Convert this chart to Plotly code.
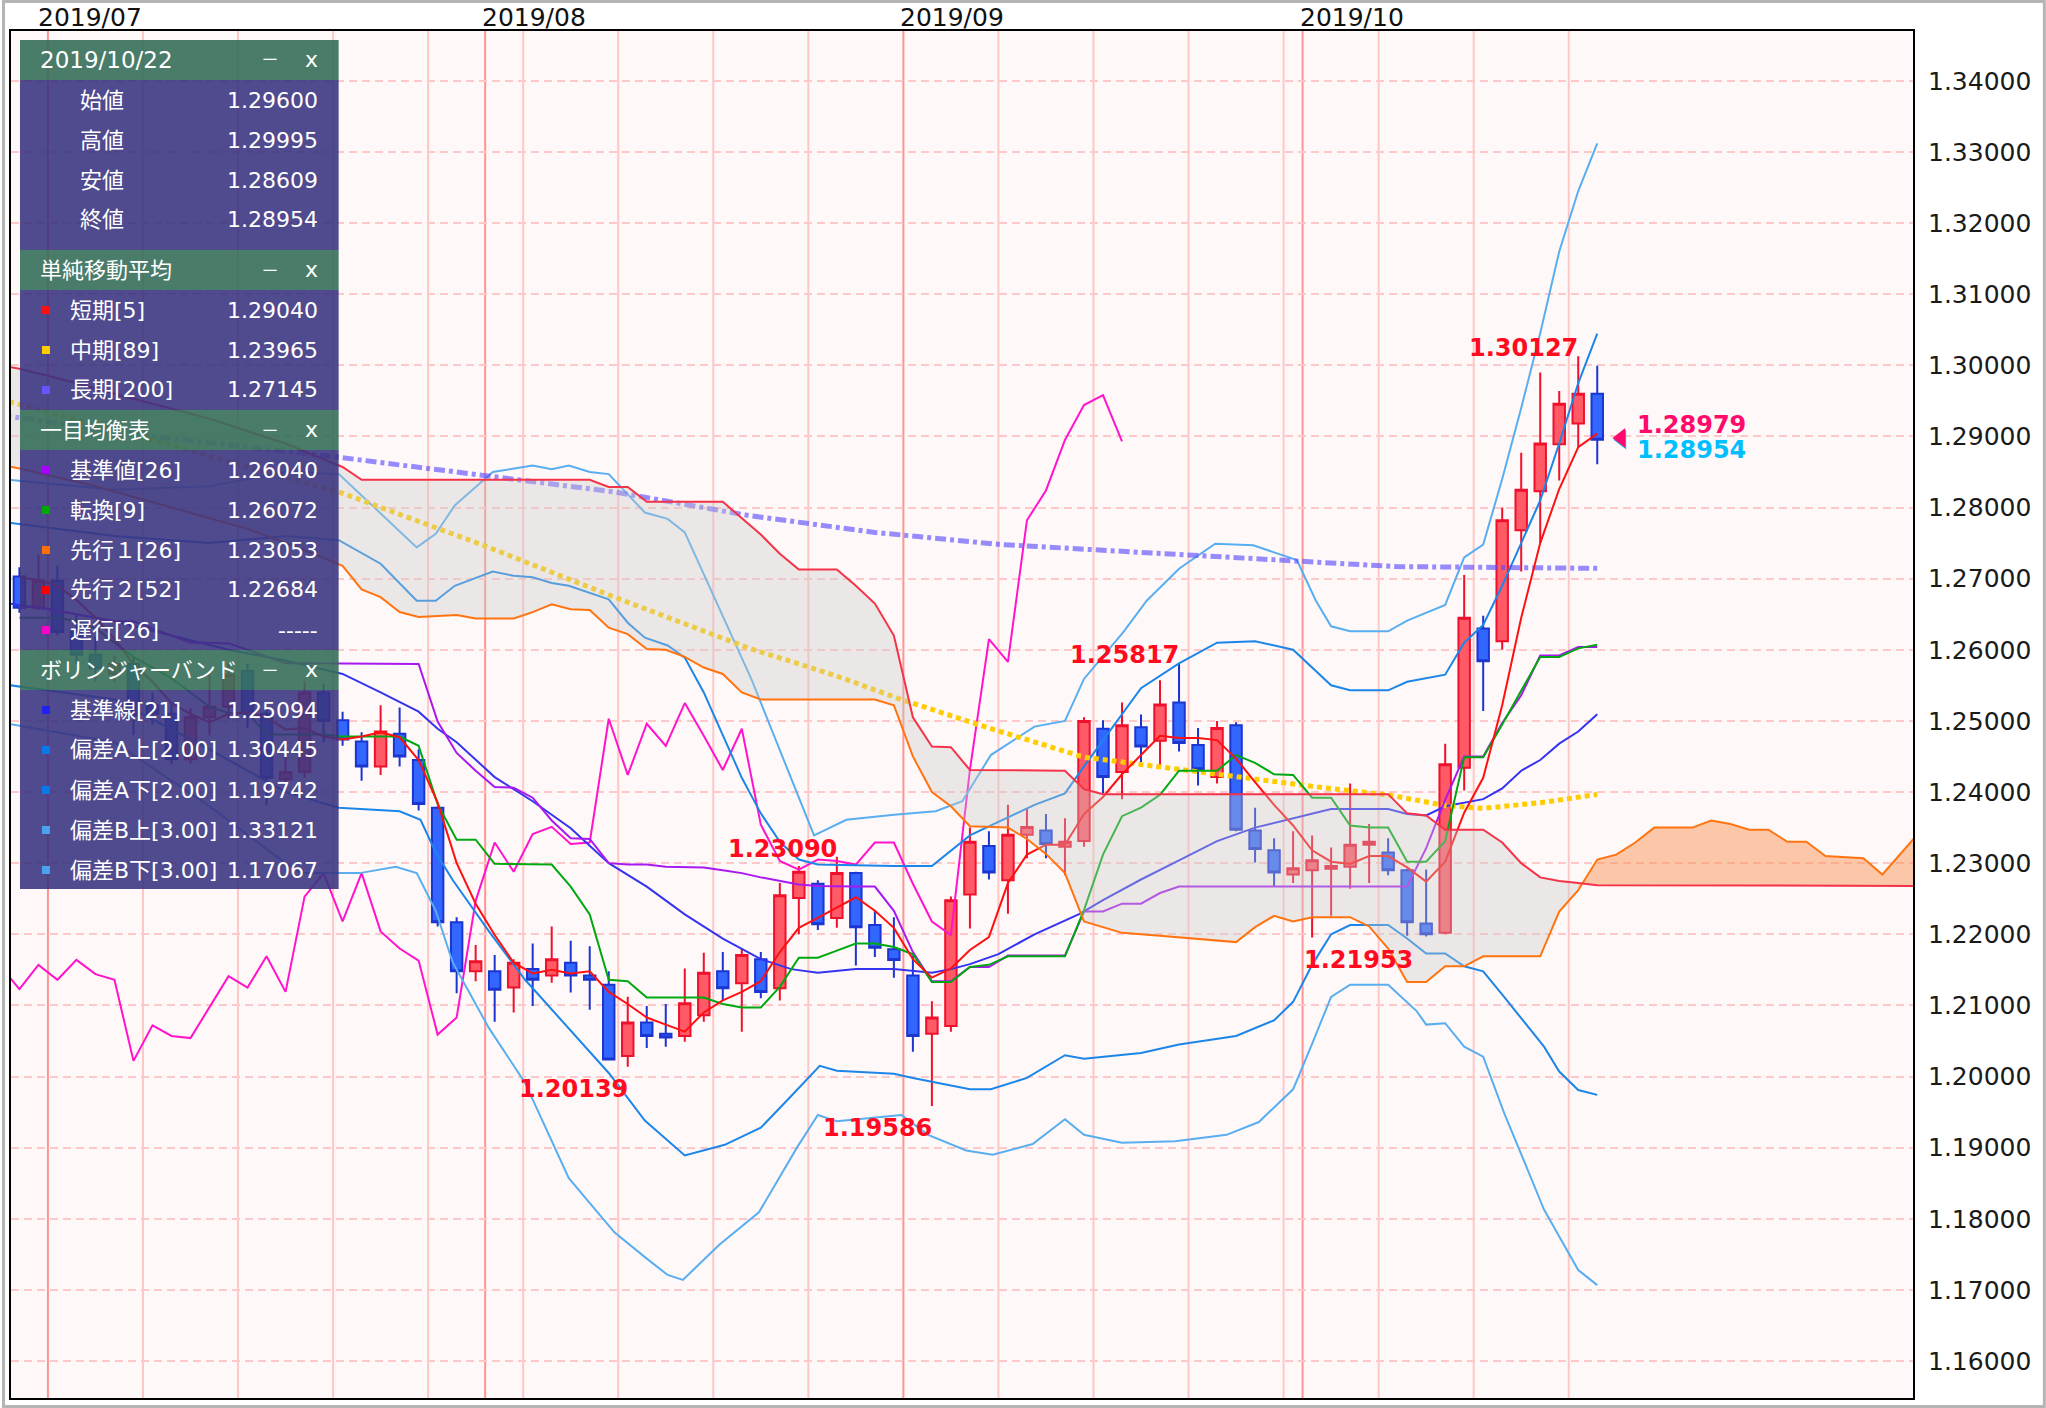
import plotly.graph_objects as go

# ---------------- data ----------------
# trading-day index: 0 = 2019/07/01 ... 81 = 2019/10/22
idx = list(range(-2, 82))
opens = [1.2703, 1.2659, 1.2697, 1.2625, 1.2593, 1.2566, 1.2580, 1.2522, 1.2510, 1.2446,
         1.2505, 1.2520, 1.2570, 1.2510, 1.2418, 1.2428, 1.2540, 1.2501, 1.2471, 1.2436,
         1.2482, 1.2445, 1.2378, 1.2217, 1.2148, 1.2148, 1.2125, 1.2151, 1.2142, 1.2160,
         1.2142, 1.2129, 1.2029, 1.2076, 1.2060, 1.2057, 1.2086, 1.2148, 1.2131, 1.2165,
         1.2124, 1.2251, 1.2271, 1.2223, 1.2286, 1.2213, 1.2179, 1.2142, 1.2060, 1.2071,
         1.2256, 1.2324, 1.2276, 1.2340, 1.2346, 1.2323, 1.2331, 1.2489, 1.2428, 1.2491,
         1.2472, 1.2526, 1.2466, 1.2421, 1.2494, 1.2346, 1.2318, 1.2284, 1.2290, 1.2292,
         1.2295, 1.2326, 1.2315, 1.2290, 1.2215, 1.2202, 1.2434, 1.2630, 1.2612, 1.2768,
         1.2823, 1.2889, 1.2918, 1.29600]
highs = [1.2716, 1.2734, 1.2718, 1.2650, 1.2618, 1.2592, 1.2590, 1.2540, 1.2525, 1.2518,
         1.2565, 1.2582, 1.2580, 1.2518, 1.2450, 1.2556, 1.2552, 1.2513, 1.2484, 1.2522,
         1.2519, 1.2460, 1.2380, 1.2224, 1.2185, 1.2171, 1.2165, 1.2187, 1.2211, 1.2191,
         1.2183, 1.2148, 1.2112, 1.2099, 1.2102, 1.2152, 1.2174, 1.2175, 1.2180, 1.2175,
         1.2272, 1.2296, 1.2276, 1.23090, 1.2288, 1.2233, 1.2224, 1.2170, 1.2106, 1.2253,
         1.2350, 1.2345, 1.2382, 1.2377, 1.2369, 1.2363, 1.2505, 1.2501, 1.2526, 1.2509,
         1.2557, 1.25817, 1.2490, 1.2500, 1.2498, 1.2378, 1.2335, 1.2345, 1.2339, 1.2322,
         1.2412, 1.2355, 1.2335, 1.2292, 1.2291, 1.2468, 1.2705, 1.2648, 1.2800, 1.2877,
         1.2990, 1.2964, 1.30127, 1.29995]
lows = [1.2652, 1.2656, 1.2620, 1.2580, 1.2555, 1.2555, 1.2480, 1.2495, 1.2439, 1.2440,
        1.2480, 1.2503, 1.2490, 1.2382, 1.2405, 1.2420, 1.2470, 1.2465, 1.2416, 1.2424,
        1.2436, 1.2374, 1.2211, 1.2117, 1.2134, 1.2077, 1.2090, 1.2099, 1.2132, 1.2118,
        1.2094, 1.2024, 1.20139, 1.2040, 1.2042, 1.2049, 1.2077, 1.2107, 1.2063, 1.2110,
        1.2107, 1.2200, 1.2206, 1.2209, 1.2156, 1.2168, 1.2139, 1.2035, 1.19586, 1.2063,
        1.2208, 1.2277, 1.2229, 1.2307, 1.2307, 1.2283, 1.2323, 1.2398, 1.2390, 1.2441,
        1.2433, 1.2457, 1.2409, 1.2412, 1.2345, 1.2301, 1.2268, 1.2272, 1.21953, 1.2226,
        1.2264, 1.2272, 1.2283, 1.2198, 1.2197, 1.2200, 1.2402, 1.2514, 1.2600, 1.2710,
        1.2750, 1.2838, 1.2885, 1.28609]
closes = [1.2659, 1.2697, 1.2625, 1.2593, 1.2574, 1.2580, 1.2508, 1.2510, 1.2446, 1.2505,
          1.2520, 1.2565, 1.2510, 1.2420, 1.2428, 1.2540, 1.2500, 1.2474, 1.2436, 1.2485,
          1.2450, 1.2383, 1.2217, 1.2148, 1.2162, 1.2122, 1.2160, 1.2136, 1.2165, 1.2142,
          1.2136, 1.2024, 1.2076, 1.2057, 1.2055, 1.2103, 1.2146, 1.2124, 1.2171, 1.2119,
          1.2255, 1.2288, 1.2214, 1.2286, 1.2210, 1.2181, 1.2164, 1.2057, 1.2083, 1.2248,
          1.2330, 1.2287, 1.2340, 1.2351, 1.2327, 1.2330, 1.2500, 1.2421, 1.2494, 1.2464,
          1.2523, 1.2469, 1.2432, 1.2490, 1.2347, 1.2320, 1.2287, 1.2293, 1.2304, 1.2296,
          1.2326, 1.2330, 1.2290, 1.2217, 1.2200, 1.2439, 1.2645, 1.2584, 1.2782, 1.2825,
          1.2890, 1.2946, 1.2960, 1.28954]

# short SMA(5)
sma5 = [1.2702, 1.2698, 1.2690, 1.2670, 1.2645, 1.2615, 1.2580, 1.2555, 1.2525, 1.2510,
        1.2498, 1.2510, 1.2512, 1.2505, 1.2488, 1.2490, 1.2478, 1.2474, 1.2478, 1.2484,
        1.2477, 1.2445, 1.2385, 1.2300, 1.2243, 1.2199, 1.2160, 1.2145, 1.2150, 1.2145,
        1.2148, 1.2119, 1.2102, 1.2083, 1.2073, 1.2063, 1.2090, 1.2107, 1.2119, 1.2134,
        1.2175, 1.2209, 1.2223, 1.2237, 1.2252, 1.2233, 1.2209, 1.2165, 1.2139, 1.2152,
        1.2178, 1.2196, 1.2272, 1.2312, 1.2326, 1.2326, 1.2369, 1.2393, 1.2425, 1.2452,
        1.2479, 1.2476, 1.2476, 1.2473, 1.2447, 1.2414, 1.2382, 1.2353, 1.2318, 1.2302,
        1.2299, 1.2310, 1.2310, 1.2294, 1.2274, 1.2302, 1.2371, 1.2420, 1.2522, 1.2645,
        1.2750, 1.2826, 1.2885, 1.2904]
# Ichimoku tenkan(9)
tenkan = [1.2645, 1.2645, 1.2645, 1.2640, 1.2630, 1.2610, 1.2590, 1.2575, 1.2560, 1.2540,
          1.2520, 1.2511, 1.2511, 1.2481, 1.2481, 1.2481, 1.2481, 1.2478, 1.2478, 1.2478,
          1.2478, 1.2465, 1.2383, 1.2333, 1.2333, 1.2299, 1.2299, 1.2298, 1.2298, 1.2267,
          1.2228, 1.2136, 1.2134, 1.2111, 1.2111, 1.2111, 1.2111, 1.2102, 1.2097, 1.2097,
          1.2126, 1.2167, 1.2167, 1.2177, 1.2187, 1.2187, 1.2182, 1.2172, 1.2133, 1.2133,
          1.2154, 1.2157, 1.2169, 1.2169, 1.2169, 1.2169, 1.2234, 1.2312, 1.2366, 1.2378,
          1.2396, 1.2430, 1.2430, 1.2430, 1.2452, 1.2441, 1.2425, 1.2424, 1.2392, 1.2392,
          1.2353, 1.2350, 1.2350, 1.2302, 1.2302, 1.2331, 1.2449, 1.2449, 1.2495, 1.2543,
          1.2590, 1.2590, 1.2602, 1.26072]
# Ichimoku kijun(26)
kijun = [1.2660, 1.2660, 1.2655, 1.2650, 1.2645, 1.2640, 1.2640, 1.2630, 1.2620, 1.2610,
         1.2610, 1.2609, 1.2600, 1.2590, 1.2581, 1.2581, 1.2581, 1.2581, 1.2581, 1.2581,
         1.2581, 1.2580, 1.2499, 1.2455, 1.2430, 1.2407, 1.2406, 1.2392, 1.2360, 1.2335,
         1.2334, 1.2300, 1.2298, 1.2298, 1.2295, 1.2295, 1.2294, 1.2290, 1.2286, 1.2280,
         1.2275, 1.2270, 1.2268, 1.2267, 1.2267, 1.2267, 1.2233, 1.2175, 1.2134, 1.2134,
         1.2154, 1.2154, 1.2170, 1.2170, 1.2170, 1.2170, 1.2232, 1.2232, 1.2243, 1.2243,
         1.2258, 1.2267, 1.2267, 1.2267, 1.2267, 1.2267, 1.2267, 1.2267, 1.2267, 1.2267,
         1.2267, 1.2267, 1.2267, 1.2267, 1.2321, 1.2389, 1.2450, 1.2450, 1.2497, 1.2536,
         1.2592, 1.2592, 1.2604, 1.26040]
# chikou span (plotted back), index -3 .. 56
chikou_x = list(range(-3, 57))
chikou = [1.2155, 1.2123, 1.2157, 1.2136, 1.2164, 1.2144, 1.2136, 1.2022, 1.2072, 1.2057,
          1.2054, 1.2098, 1.2141, 1.2125, 1.2169, 1.2119, 1.2253, 1.2286, 1.2218, 1.2286,
          1.2204, 1.2180, 1.2163, 1.2059, 1.2083, 1.2247, 1.2329, 1.2288, 1.2341, 1.2351,
          1.2327, 1.2329, 1.2503, 1.2424, 1.2496, 1.2465, 1.2525, 1.2479, 1.2431, 1.2489,
          1.2354, 1.2303, 1.2291, 1.2305, 1.2303, 1.2298, 1.2329, 1.2329, 1.2271, 1.2218,
          1.2199, 1.2431, 1.2615, 1.2583, 1.2782, 1.2824, 1.2895, 1.2944, 1.2958, 1.2893]

# senkou spans (shifted forward), sparse vertices
span_a_x = [-3, -2, 2, 6, 10, 13, 15, 16, 17, 18, 19, 21, 22, 24, 25, 26, 27, 28, 29, 30,
            31, 32, 33, 34, 35, 36, 37, 43, 44, 45, 46, 47, 48, 50, 51, 52, 53, 54, 55, 56,
            58, 60, 62, 63, 64, 65, 66, 68, 69, 70, 71, 72, 73, 74, 75, 78, 79, 80, 81, 82,
            83, 84, 86, 87, 88, 89, 90, 91, 92, 93, 95, 96, 97, 98]
span_a = [1.2860, 1.2855, 1.2830, 1.2800, 1.2770, 1.2740, 1.2718, 1.2685, 1.2674, 1.2653,
          1.2646, 1.2649, 1.2644, 1.2644, 1.2653, 1.2664, 1.2657, 1.2656, 1.2631, 1.2622,
          1.2601, 1.2600, 1.2590, 1.2575, 1.2566, 1.2540, 1.2530, 1.2530, 1.2522, 1.2450,
          1.2400, 1.2380, 1.2352, 1.2350, 1.2334, 1.2313, 1.2286, 1.2218, 1.2210, 1.2202,
          1.2198, 1.2193, 1.2189, 1.2210, 1.2226, 1.2218, 1.2224, 1.2224, 1.2211, 1.2180,
          1.2133, 1.2133, 1.2155, 1.2155, 1.2169, 1.2169, 1.2232, 1.2262, 1.2305, 1.2312,
          1.2329, 1.2350, 1.2350, 1.2360, 1.2355, 1.2347, 1.2347, 1.2330, 1.2330, 1.2310,
          1.2307, 1.2284, 1.2314, 1.2345]
span_b_x = [-3, -2, 1, 3, 8, 12, 15, 16, 28, 29, 30, 31, 35, 36, 37, 38, 39, 41, 42, 43,
            44, 45, 46, 47, 48, 53, 54, 55, 70, 71, 72, 73, 75, 76, 77, 78, 79, 80, 81, 98]
span_b = [1.3000, 1.2995, 1.2975, 1.2960, 1.2925, 1.2890, 1.2857, 1.2839, 1.2839, 1.2829,
          1.2829, 1.2808, 1.2808, 1.2785, 1.2762, 1.2735, 1.2713, 1.2713, 1.2690, 1.2665,
          1.2620, 1.2505, 1.2464, 1.2463, 1.2431, 1.2430, 1.2404, 1.2397, 1.2397, 1.2370,
          1.2367, 1.2347, 1.2347, 1.2329, 1.2300, 1.2280, 1.2275, 1.2272, 1.2269, 1.2268]

# moving averages 89 / 200 (sparse vertices)
sma89_x = [-3, 5, 10, 15, 22.5, 29.3, 36.3, 41, 44.4, 49, 54, 58.5, 63, 66, 70, 73, 75, 78, 81]
sma89 = [1.2952, 1.2895, 1.2857, 1.2820, 1.2746, 1.2674, 1.2603, 1.2563, 1.2530, 1.2490,
         1.2449, 1.2433, 1.2417, 1.2408, 1.2396, 1.2381, 1.2377, 1.2385, 1.23965]
sma200_x = [-3, 5, 15, 22.5, 29.3, 36.3, 43, 49.6, 60, 70.4, 81]
sma200 = [1.2930, 1.2900, 1.2870, 1.2844, 1.2822, 1.2789, 1.2765, 1.2748, 1.2733, 1.2717, 1.27145]

# Bollinger bands (21) sparse vertices
bb_mid_x = [-3, 0, 3, 6, 9, 12, 15, 17, 19, 20, 21, 23, 25, 27, 29, 31, 33, 35, 37, 38.6,
            40, 42, 44, 46, 47, 48, 49.5, 51.4, 53.8, 55, 57, 59, 61, 63, 65.5, 67, 70, 71,
            72, 73, 75, 76, 77, 78, 79, 80, 81]
bb_mid = [1.2667, 1.2655, 1.2640, 1.2620, 1.2600, 1.2585, 1.2566, 1.2540, 1.2513, 1.2489,
          1.2470, 1.2421, 1.2387, 1.2349, 1.2300, 1.2267, 1.2228, 1.2194, 1.2165, 1.2151,
          1.2146, 1.2151, 1.2151, 1.2146, 1.2151, 1.2158, 1.2172, 1.2200, 1.2229, 1.2248,
          1.2277, 1.2304, 1.2331, 1.2350, 1.2366, 1.2376, 1.2376, 1.2369, 1.2367, 1.2380,
          1.2390, 1.2405, 1.2430, 1.2445, 1.2468, 1.2485, 1.25094]
bb_up2_x = [-3, 3, 8, 12, 14.8, 17, 18.9, 19.9, 20.9, 22.9, 24, 25, 26, 26.9, 29, 30, 30.9,
            32.1, 33, 34, 35, 36, 37, 38, 39, 40, 44, 46, 48, 51.4, 53, 54, 57, 59, 61, 63,
            65, 66, 67, 68, 70, 71, 73, 74, 75, 76, 77, 78, 79, 80, 81]
bb_up2 = [1.2780, 1.2760, 1.2750, 1.2760, 1.2754, 1.2721, 1.2669, 1.2669, 1.2690, 1.2710,
          1.2704, 1.2702, 1.2694, 1.2690, 1.2671, 1.2638, 1.2617, 1.2606, 1.2589, 1.2540,
          1.2480, 1.2420, 1.2370, 1.2330, 1.2305, 1.2298, 1.2296, 1.2296, 1.2339, 1.2382,
          1.2398, 1.2436, 1.2546, 1.2581, 1.2610, 1.2612, 1.2600, 1.2575, 1.2550, 1.2543,
          1.2543, 1.2555, 1.2565, 1.2610, 1.2635, 1.2690, 1.2750, 1.2810, 1.2890, 1.2975,
          1.30445]
bb_up3_x = [-3, 3, 8, 12, 14.8, 18.9, 19.9, 20.9, 22.9, 25, 26, 26.9, 28, 29, 30.9, 32.1,
            33, 36.5, 39.8, 41.5, 44, 46.2, 47.6, 49.1, 51.4, 53, 54, 56.1, 57.3, 59, 60.9,
            62.9, 65.2, 66.2, 67, 68, 70, 71, 73, 74, 75, 76, 77, 78, 79, 80, 81]
bb_up3 = [1.2840, 1.2825, 1.2830, 1.2850, 1.2847, 1.2744, 1.2763, 1.2803, 1.2850, 1.2859,
          1.2854, 1.2859, 1.2850, 1.2847, 1.2793, 1.2784, 1.2765, 1.2559, 1.2339, 1.2361,
          1.2368, 1.2373, 1.2387, 1.2452, 1.2492, 1.2500, 1.2559, 1.2626, 1.2669, 1.2714,
          1.2749, 1.2747, 1.2726, 1.2669, 1.2633, 1.2626, 1.2626, 1.2641, 1.2663, 1.2730,
          1.2748, 1.2840, 1.2940, 1.3045, 1.3160, 1.3245, 1.33121]
bb_dn2_x = [-3, 3, 8, 12, 14.8, 18, 19.1, 19.9, 20.8, 22.7, 24.6, 26.9, 29, 30.9, 33, 35.1,
            37, 38.4, 40.1, 41, 44, 45, 46, 48, 49.1, 51, 53, 54, 57, 59, 62, 64, 65, 66,
            67, 68, 70, 71, 72, 73, 74, 75, 76.1, 77.2, 78.2, 79, 80, 81]
bb_dn2 = [1.2552, 1.2530, 1.2460, 1.2400, 1.2378, 1.2373, 1.2361, 1.2315, 1.2276, 1.2204,
          1.2136, 1.2068, 1.2005, 1.1938, 1.1889, 1.1904, 1.1928, 1.1967, 1.2015, 1.2008,
          1.2004, 1.1998, 1.1993, 1.1982, 1.1982, 1.1998, 1.2030, 1.2025, 1.2033, 1.2045,
          1.2057, 1.2079, 1.2105, 1.2157, 1.2200, 1.2213, 1.2213, 1.2194, 1.2173, 1.2173,
          1.2155, 1.2148, 1.2112, 1.2075, 1.2042, 1.2007, 1.1981, 1.19742]
bb_dn3_x = [-3, 3, 8, 12, 12.8, 15.9, 17.8, 18.9, 19.9, 20.8, 22.7, 24.6, 26.9, 29.3, 31,
            32.1, 32.9, 34.8, 36.9, 38.9, 40, 41, 44.4, 45.8, 47.8, 49.2, 51.3, 53, 54, 56,
            58.8, 61.5, 63.2, 65, 66, 67, 68, 70, 71.5, 72, 73, 74, 75, 76.1, 77.2, 78.2, 79,
            80, 81]
bb_dn3 = [1.2498, 1.2470, 1.2380, 1.2300, 1.2286, 1.2286, 1.2295, 1.2286, 1.2233, 1.2160,
          1.2068, 1.1991, 1.1857, 1.1781, 1.1744, 1.1721, 1.1714, 1.1763, 1.1809, 1.1900,
          1.1946, 1.1937, 1.1946, 1.1918, 1.1896, 1.1890, 1.1905, 1.1940, 1.1918, 1.1907,
          1.1909, 1.1918, 1.1936, 1.1982, 1.2046, 1.2112, 1.2129, 1.2129, 1.2092, 1.2073,
          1.2075, 1.2042, 1.2028, 1.1949, 1.1878, 1.1813, 1.1775, 1.1728, 1.17067]

# grid positions (between trading days) and month labels
week_lines = [4.5, 9.5, 14.5, 19.5, 24.5, 29.5, 34.5, 39.5, 49.5, 54.5, 59.5, 64.5, 69.5, 74.5, 79.5]
month_lines = [-0.5, 22.5, 44.5, 65.5]
month_labels = ['2019/07', '2019/08', '2019/09', '2019/10']
y_ticks = [1.16 + 0.01 * k for k in range(19)]

# high / low markers: (index, value, kind)
hl_points = [(80, 1.30127, 'hi'), (59, 1.25817, 'hi'), (41, 1.23090, 'hi'),
             (30, 1.20139, 'lo'), (46, 1.19586, 'lo'), (66, 1.21953, 'lo')]
bid_price = 1.28954
ask_price = 1.28979

# legend panel contents
panel_date = '2019/10/22'
ohlc_names = ['始値', '高値', '安値', '終値']
ohlc_vals = ['1.29600', '1.29995', '1.28609', '1.28954']
sma_names = ['短期[5]', '中期[89]', '長期[200]']
sma_vals = ['1.29040', '1.23965', '1.27145']
ichi_names = ['基準値[26]', '転換[9]', '先行１[26]', '先行２[52]', '遅行[26]']
ichi_vals = ['1.26040', '1.26072', '1.23053', '1.22684', '-----']
bb_names = ['基準線[21]', '偏差A上[2.00]', '偏差A下[2.00]', '偏差B上[3.00]', '偏差B下[3.00]']
bb_vals = ['1.25094', '1.30445', '1.19742', '1.33121', '1.17067']

# ---------------- styling ----------------
C_SMA5 = '#ff1010'
C_SMA89 = '#ffcc00'
C_SMA200 = 'rgba(85,72,255,0.62)'
C_KIJUN = '#a818f0'
C_TENKAN = '#00a810'
C_SPANA = '#ff7410'
C_SPANB = '#f43348'
C_CHIKOU = '#ff14cc'
C_BBMID = '#3434f0'
C_BB2 = '#1c86e8'
C_BB3 = '#58aef0'

W, H = 2046, 1408
PL, PR, PT, PB = 9, 1913, 31, 1398
FONT = 'DejaVu Sans, Noto Sans CJK JP, sans-serif'


def px_x(px):
    return (px - PL) / (PR - PL)


def px_y(py):
    return 1 - (py - PT) / (PB - PT)


fig = go.Figure()

fig.add_trace(go.Candlestick(
    x=idx, open=opens, high=highs, low=lows, close=closes,
    increasing=dict(line=dict(color='#f0102c', width=2), fillcolor='#ff5a66'),
    decreasing=dict(line=dict(color='#1a35d0', width=2), fillcolor='#3366ff'),
    whiskerwidth=0, showlegend=False, hoverinfo='skip'))


def add_line(xs, ys, color, width=2, dash=None):
    fig.add_trace(go.Scatter(x=xs, y=ys, mode='lines',
                             line=dict(color=color, width=width, dash=dash),
                             showlegend=False, hoverinfo='skip'))


add_line(chikou_x, chikou, C_CHIKOU)
add_line(bb_up3_x, bb_up3, C_BB3)
add_line(bb_dn3_x, bb_dn3, C_BB3)
add_line(bb_up2_x, bb_up2, C_BB2)
add_line(bb_dn2_x, bb_dn2, C_BB2)
add_line(bb_mid_x, bb_mid, C_BBMID)
add_line(sma200_x, sma200, C_SMA200, width=5, dash='11px,4px,4px,4px')
add_line(sma89_x, sma89, C_SMA89, width=5, dash='5px,4px')
add_line(idx, kijun, C_KIJUN)
add_line(idx, tenkan, C_TENKAN)
add_line(idx, sma5, C_SMA5)

# cloud: grey where span B above span A, orange where span A above span B
CUT = 80
gb = [(x, y) for x, y in zip(span_b_x, span_b) if x <= CUT]
ga = [(x, y) for x, y in zip(span_a_x, span_a) if x <= CUT]
ob = [(x, y) for x, y in zip(span_b_x, span_b) if x >= CUT]
oa = [(x, y) for x, y in zip(span_a_x, span_a) if x >= CUT]
fig.add_trace(go.Scatter(x=[p[0] for p in gb], y=[p[1] for p in gb], mode='lines',
                         line=dict(width=0, color='rgba(0,0,0,0)'), showlegend=False, hoverinfo='skip'))
fig.add_trace(go.Scatter(x=[p[0] for p in ga], y=[p[1] for p in ga], mode='lines',
                         line=dict(width=0, color='rgba(0,0,0,0)'), fill='tonexty',
                         fillcolor='rgba(200,202,200,0.36)', showlegend=False, hoverinfo='skip'))
fig.add_trace(go.Scatter(x=[p[0] for p in ob], y=[p[1] for p in ob], mode='lines',
                         line=dict(width=0, color='rgba(0,0,0,0)'), showlegend=False, hoverinfo='skip'))
fig.add_trace(go.Scatter(x=[p[0] for p in oa], y=[p[1] for p in oa], mode='lines',
                         line=dict(width=0, color='rgba(0,0,0,0)'), fill='tonexty',
                         fillcolor='rgba(248,140,70,0.45)', showlegend=False, hoverinfo='skip'))
add_line(span_a_x, span_a, C_SPANA)
add_line(span_b_x, span_b, C_SPANB)

# current price pointers (bid behind, ask in front)
fig.add_trace(go.Scatter(x=[82.3], y=[bid_price], mode='markers',
                         marker=dict(symbol='triangle-left', size=17, color='#00bfff'),
                         showlegend=False, hoverinfo='skip'))
fig.add_trace(go.Scatter(x=[82.25], y=[ask_price], mode='markers',
                         marker=dict(symbol='triangle-left', size=17, color='#ff0a6c'),
                         showlegend=False, hoverinfo='skip'))

shapes = []
for xv in week_lines:
    shapes.append(dict(type='line', xref='x', yref='paper', x0=xv, x1=xv, y0=0, y1=1,
                       line=dict(color='#ffc6c6', width=2), layer='below'))
for xv in month_lines:
    shapes.append(dict(type='line', xref='x', yref='paper', x0=xv, x1=xv, y0=0, y1=1,
                       line=dict(color='#ff9494', width=2), layer='below'))

annotations = []
for k, (xv, lab) in enumerate(zip(month_lines, month_labels)):
    annotations.append(dict(x=xv, y=1, xref='x', yref='paper', text=lab, showarrow=False,
                            xanchor='left', yanchor='bottom', xshift=-12 if k == 0 else -5,
                            yshift=-3, font=dict(family=FONT, size=25, color='#111')))

for xv, val, kind in hl_points:
    txt = f'{val:.5f}'
    if kind == 'hi':
        annotations.append(dict(x=xv, y=val, xref='x', yref='y', text=txt, showarrow=False,
                                xanchor='right', yanchor='bottom', xshift=2, yshift=-8,
                                font=dict(family='DejaVu Sans', size=24, color='#ff0a1e', weight='bold')))
    else:
        anchor = 'left' if xv == 66 else 'right'
        xs = -10 if xv == 66 else 2
        annotations.append(dict(x=xv, y=val, xref='x', yref='y', text=txt, showarrow=False,
                                xanchor=anchor, yanchor='top', xshift=xs, yshift=-6,
                                font=dict(family='DejaVu Sans', size=24, color='#ff0a1e', weight='bold')))

annotations.append(dict(x=81, y=ask_price, xref='x', yref='y', text=f'{ask_price:.5f}',
                        showarrow=False, xanchor='left', yanchor='bottom', xshift=38, yshift=-3,
                        font=dict(family='DejaVu Sans', size=24, color='#ff0a6c', weight='bold')))
annotations.append(dict(x=81, y=bid_price, xref='x', yref='y', text=f'{bid_price:.5f}',
                        showarrow=False, xanchor='left', yanchor='top', xshift=38, yshift=6,
                        font=dict(family='DejaVu Sans', size=24, color='#00bfff', weight='bold')))

# ---- legend panel ----
P_X0, P_X1 = 18, 337
HEAD = 'rgba(54,110,90,0.90)'
BODY = 'rgba(58,52,128,0.89)'
WHITE = '#ffffff'


def rect(x0, y0, x1, y1, color):
    shapes.append(dict(type='rect', xref='paper', yref='paper', x0=px_x(x0), x1=px_x(x1),
                       y0=px_y(y1), y1=px_y(y0), fillcolor=color, line=dict(width=0), layer='above'))


def text(px, py, s, anchor='left', size=22):
    annotations.append(dict(x=px_x(px), y=px_y(py), xref='paper', yref='paper', text=s,
                            showarrow=False, xanchor=anchor, yanchor='middle',
                            font=dict(family=FONT, size=size, color=WHITE)))


sections = [
    (40, 80, 250, panel_date, None, ohlc_names, ohlc_vals),
    (250, 290, 410, '単純移動平均', [C_SMA5, '#ffcc00', '#6655ff'], sma_names, sma_vals),
    (410, 450, 650, '一目均衡表', ['#a800ff', '#00a800', '#ff7000', '#ff0000', '#ff00cc'],
     ichi_names, ichi_vals),
    (650, 690, 889, 'ボリンジャーバンド', ['#2222ee', '#0a78e8', '#0a78e8', '#4aa2ec', '#4aa2ec'],
     bb_names, bb_vals),
]
for h0, h1, b1, title, cols, names, vals in sections:
    rect(P_X0, h0, P_X1, h1, HEAD)
    rect(P_X0, h1, P_X1, b1, BODY)
    text(36, (h0 + h1) / 2, title, size=23 if cols is None else 22)
    text(268, (h0 + h1) / 2, '－', anchor='center', size=18)
    text(310, (h0 + h1) / 2 - 1, 'x', anchor='center')
    for k, (nm, vv) in enumerate(zip(names, vals)):
        cy = h1 + 20 + 40 * k
        if cols is None:
            text(100, cy, nm, anchor='center')
        else:
            rect(40, cy - 4, 48, cy + 4, cols[k])
            text(66, cy, nm)
        text(318, cy, vv, anchor='right')

# outer frame
shapes.append(dict(type='rect', xref='paper', yref='paper', x0=px_x(1.5), x1=px_x(2044.5),
                   y0=px_y(1406.5), y1=px_y(1.5), line=dict(color='#b4b4b4', width=3),
                   fillcolor='rgba(0,0,0,0)', layer='above'))

fig.update_layout(
    width=W, height=H, autosize=False,
    margin=dict(l=PL, r=W - PR, t=PT, b=H - PB, pad=0),
    paper_bgcolor='#ffffff', plot_bgcolor='#fff8f8',
    showlegend=False, hovermode=False,
    shapes=shapes, annotations=annotations,
    font=dict(family=FONT),
    xaxis=dict(range=[-2.443, 97.61], showgrid=False, zeroline=False, showticklabels=False,
               ticks='', showline=True, mirror=True, linecolor='#000', linewidth=2,
               rangeslider=dict(visible=False), fixedrange=True),
    yaxis=dict(range=[1.1548, 1.3470], side='right', tickvals=y_ticks,
               ticktext=[f'{v:.5f}' for v in y_ticks], showgrid=True, gridcolor='#ffc8c8',
               gridwidth=2, griddash='8px,5px', zeroline=False, ticks='',
               ticklabelstandoff=8, showline=True, mirror=True, linecolor='#000',
               linewidth=2, tickfont=dict(family='DejaVu Sans', size=25, color='#1a1a1a'),
               fixedrange=True),
    boxgap=0.14,
)

fig.write_html('out.html', config={'displayModeBar': False, 'staticPlot': True},
               post_script="document.body.style.margin='0px';document.body.style.overflow='hidden';")
